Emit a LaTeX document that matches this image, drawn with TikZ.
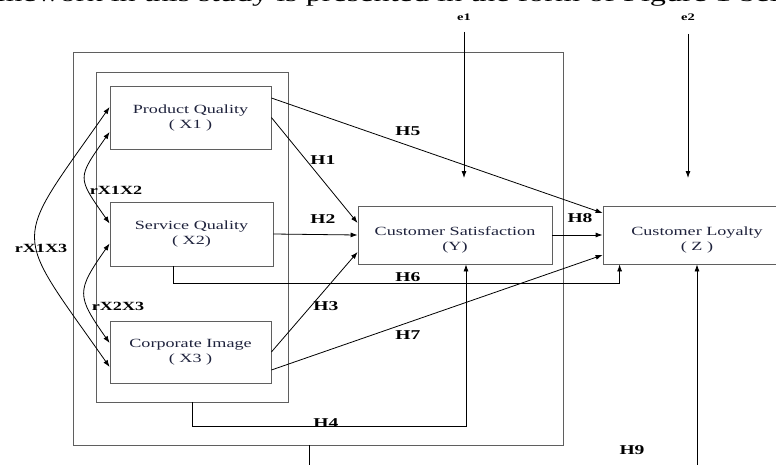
\documentclass[tikz,border=0pt]{standalone}
\usepackage{fontspec}
\setmainfont{Liberation Serif}[FakeStretch=1.45]
\usepackage{tikz}
\usetikzlibrary{arrows.meta}

\definecolor{boxtext}{RGB}{30,34,60}
\definecolor{framegray}{RGB}{95,95,95}

\begin{document}
\begin{tikzpicture}[x=1pt,y=-1pt,>={Latex[length=7pt,width=5pt]},
   var node/.style={draw=framegray,line width=0.8pt,text=boxtext,align=center,
      inner sep=0pt,font=\fontsize{12.5}{15}\selectfont}]

\tikzstyle {edge} = [->, line width=0.8pt];
\tikzstyle {frame} = [draw=framegray, line width=0.8pt, inner sep=0pt];
\tikzstyle {hyp} = [font=\bfseries\fontsize{13.5}{15}\selectfont];
\tikzstyle {corr} = [font=\bfseries\fontsize{12.5}{14}\selectfont];
\tikzstyle {err} = [font=\bfseries\fontsize{10}{11}\selectfont];

\useasboundingbox (0,0) rectangle (776,464);

\node[anchor=base west, font=\fontsize{22.2}{24}\selectfont] (intro) at (-42,1)
   {framework in this study is presented in the form of Figure 1 below};

% frames round the exogenous block
\node[frame, minimum width=490pt, minimum height=393pt] (outer) at (318,248.5) {};
\node[frame, minimum width=192pt, minimum height=330pt] (inner) at (192,237) {};

\node[var node, minimum width=161pt, minimum height=63pt] (x1) at (190.5,117.5) {Product Quality\\( X1 )};
\node[var node, minimum width=163pt, minimum height=64pt] (x2) at (191.5,234) {Service Quality\\( X2)};
\node[var node, minimum width=161pt, minimum height=62pt] (x3) at (190.5,352) {Corporate Image\\( X3 )};
\node[var node, minimum width=194pt, minimum height=58pt] (y) at (455,235) {\rule{0pt}{18pt}Customer Satisfaction\\(Y)};
\node[var node, minimum width=188pt, minimum height=58pt] (z) at (697,235) {\rule{0pt}{18pt}Customer Loyalty\\( Z )};

\node[err] (e1) at (464,17) {e1};
\node[err] (e2) at (688,17) {e2};
\coordinate (e1tip) at (464,178);
\coordinate (e2tip) at (688,178);

%\draw [->] (x1) -- (z);

% correlations
\path (x1.west) ++(0,-14.5pt) coordinate (c12a);
\path (x2.west) ++(0,10.5pt) coordinate (c12b);
\path (x2.west) ++(0,-9.5pt) coordinate (c23a);
\path (x3.west) ++(0,9pt) coordinate (c23b);
\path (x1.west) ++(0,10.5pt) coordinate (c13a);
\path (x3.west) ++(0,-15pt) coordinate (c13b);
\path (c12a) edge [<->, line width=0.8pt, out=235, in=125, looseness=1.6] (c12b);
\path (c23a) edge [<->, line width=0.8pt, out=235, in=125, looseness=1.5] (c23b);
\path (c13a) edge [<->, line width=0.8pt, out=235, in=125, looseness=1.7] (c13b);

% direct paths
\path ([yshift=19.5pt]x1.east) edge [edge] ([yshift=22pt]z.west);
\path (x1.east) edge [edge] ([yshift=12pt]y.west);
\path (x2.east) edge [edge] (y.west);
\path (x3.east) edge [edge] ([yshift=-17pt]y.west);
\path ([yshift=-18pt]x3.east) edge [edge] ([yshift=-20pt]z.west);
\path (y.east) edge [edge] (z.west);
\draw[edge] ([xshift=-18.5pt]x2.south) -- ++(0,17) -| ([xshift=17pt]z.south west);
\draw[edge] (inner.south) -- ++(0,24) -| ([xshift=11pt]y.south);
\draw[edge] ([xshift=237pt]outer.south west) -- ++(0,40) -| (z.south);

% disturbances
\path (e1) edge [edge, shorten <=8pt] (e1tip);
\path (e2) edge [edge, shorten <=10pt] (e2tip);

\node[hyp] (h1) at (323,160) {H1};
\node[hyp] (h2) at (323,219) {H2};
\node[hyp] (h3) at (326,306) {H3};
\node[hyp] (h4) at (326,423) {H4};
\node[hyp] (h5) at (408,131) {H5};
\node[hyp] (h6) at (408,277) {H6};
\node[hyp] (h7) at (408,335) {H7};
\node[hyp] (h8) at (580,218) {H8};
\node[hyp] (h9) at (632,450) {H9};
\node[corr] (r12) at (116,190) {rX1X2};
\node[corr] (r23) at (118,306) {rX2X3};
\node[corr] (r13) at (41,248) {rX1X3};

\end{tikzpicture}
\end{document}
